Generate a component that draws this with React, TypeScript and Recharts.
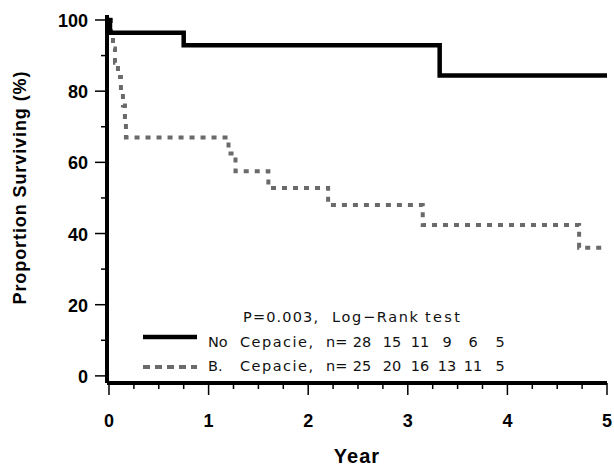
import { Line, LineChart, XAxis, YAxis } from 'recharts';

// Kaplan-Meier style survival curves.
const noCepaciaYears = [0, 0.01, 0.75, 3.32, 5];
const noCepaciaSurvival = [100, 96.4, 92.9, 84.4, 84.4];

const cepaciaYears = [0, 0.02, 0.04, 0.06, 0.09, 0.12, 0.14, 0.16, 0.17, 1.2, 1.27, 1.6, 2.2, 3.15, 4.72, 5];
const cepaciaSurvival = [100, 96, 92, 88, 84, 80, 76, 72, 67, 62.5, 57.5, 52.8, 48, 42.4, 36, 36];

const atRiskNoCepacia = [28, 15, 11, 9, 6, 5];
const atRiskCepacia = [25, 20, 16, 13, 11, 5];

const xTicks = [0, 0.25, 0.5, 0.75, 1, 1.25, 1.5, 1.75, 2, 2.25, 2.5, 2.75, 3, 3.25, 3.5, 3.75, 4, 4.25, 4.5, 4.75, 5];
const yTicks = [0, 10, 20, 30, 40, 50, 60, 70, 80, 90, 100];

const noCepacia = noCepaciaYears.map((t, i) => ({ t, s: noCepaciaSurvival[i] }));
const cepacia = cepaciaYears.map((t, i) => ({ t, s: cepaciaSurvival[i] }));

const FONT = '"Liberation Sans", Arial, sans-serif';
const NOTE_FONT = '"DejaVu Sans", Verdana, sans-serif';
const DASH_GREY = '#6a6a6a';

// columns for the numbers-at-risk rows
const riskCols = [362, 392, 420, 447, 473, 500];

function XTick(props: any) {
  const { x, y, payload } = props;
  const major = Number.isInteger(payload.value);
  return (
    <g>
      <line x1={x} x2={x} y1={y} y2={y + (major ? 12 : 6)} stroke="#000" strokeWidth={1.5} />
      {major && (
        <text x={x} y={y + 44} textAnchor="middle" fontFamily={FONT} fontWeight="bold" fontSize={18} fill="#000">
          {payload.value}
        </text>
      )}
    </g>
  );
}

function YTick(props: any) {
  const { x, y, payload } = props;
  const major = payload.value % 20 === 0;
  return (
    <g>
      <line x1={x} x2={x - (major ? 12 : 6)} y1={y} y2={y} stroke="#000" strokeWidth={1.5} />
      {major && (
        <text x={x - 19} y={y + 7} textAnchor="end" fontFamily={FONT} fontWeight="bold" fontSize={18} fill="#000">
          {payload.value}
        </text>
      )}
    </g>
  );
}

export default function App() {
  return (
    <div style={{ position: 'absolute', left: 0, top: 0, width: 614, height: 471, background: '#fff' }}>
      <LineChart width={614} height={471} margin={{ top: 15, right: 7, bottom: 0, left: 0 }}>
        <XAxis
          dataKey="t"
          type="number"
          domain={[-0.02, 5]}
          allowDataOverflow
          ticks={xTicks}
          interval={0}
          height={88}
          tickSize={0}
          tickMargin={0}
          tickLine={false}
          tick={<XTick />}
          axisLine={{ stroke: '#000', strokeWidth: 4 }}
        />
        <YAxis
          type="number"
          domain={[-2, 101.4]}
          allowDataOverflow
          ticks={yTicks}
          interval={0}
          width={107}
          tickSize={0}
          tickMargin={0}
          tickLine={false}
          tick={<YTick />}
          axisLine={{ stroke: '#000', strokeWidth: 4 }}
        />
        <Line
          data={cepacia}
          dataKey="s"
          type="stepAfter"
          stroke={DASH_GREY}
          strokeWidth={4}
          strokeDasharray="5 6"
          dot={false}
          activeDot={false}
          isAnimationActive={false}
        />
        <Line
          data={noCepacia}
          dataKey="s"
          type="stepAfter"
          stroke="#000"
          strokeWidth={4.5}
          dot={false}
          activeDot={false}
          isAnimationActive={false}
        />
      </LineChart>

      <svg
        width={614}
        height={471}
        style={{ position: 'absolute', left: 0, top: 0, pointerEvents: 'none' }}
        fontFamily={FONT}
      >
        <text
          transform="translate(26,188) rotate(-90)"
          textAnchor="middle"
          fontWeight="bold"
          fontSize={18}
          textLength={233}
          lengthAdjust="spacing"
        >
          Proportion Surviving (%)
        </text>
        <text x={357} y={463} textAnchor="middle" fontWeight="bold" fontSize={20} letterSpacing={1}>
          Year
        </text>

        <g fontSize={14.5} fill="#111" fontFamily={NOTE_FONT}>
          <text x={243} y={322} textLength={75} lengthAdjust="spacing">P=0.003,</text>
          <text x={332} y={322} textLength={86} lengthAdjust="spacing">Log−Rank</text>
          <text x={425} y={322} textLength={35} lengthAdjust="spacing">test</text>

          <line x1={143} x2={197} y1={337} y2={337} stroke="#000" strokeWidth={4.5} />
          <text x={208} y={347}>No</text>
          <text x={240} y={347} textLength={73} lengthAdjust="spacing">Cepacie,</text>
          <text x={326} y={347}>n=</text>
          {atRiskNoCepacia.map((n, i) => (
            <text key={i} x={riskCols[i]} y={347} textAnchor="middle">{n}</text>
          ))}

          <line x1={143} x2={197} y1={367} y2={367} stroke={DASH_GREY} strokeWidth={4} strokeDasharray="7 5" />
          <text x={208} y={371}>B.</text>
          <text x={240} y={371} textLength={73} lengthAdjust="spacing">Cepacie,</text>
          <text x={326} y={371}>n=</text>
          {atRiskCepacia.map((n, i) => (
            <text key={i} x={riskCols[i]} y={371} textAnchor="middle">{n}</text>
          ))}
        </g>
      </svg>
    </div>
  );
}
